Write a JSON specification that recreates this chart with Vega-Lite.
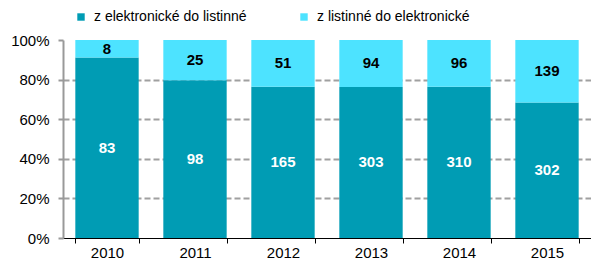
{
  "$schema": "https://vega.github.io/schema/vega-lite/v6.json",
  "width": 528,
  "height": 198,
  "autosize": "none",
  "padding": {"left": 63, "top": 40, "right": 0, "bottom": 25},
  "background": "white",
  "config": {
    "font": "Liberation Sans",
    "view": {"stroke": null},
    "axisY": {"labelOverlap": false}
  },
  "data": {
    "values": [
      {"year": "2010", "series": "z elektronické do listinné", "value": 83},
      {"year": "2010", "series": "z listinné do elektronické", "value": 8},
      {"year": "2011", "series": "z elektronické do listinné", "value": 98},
      {"year": "2011", "series": "z listinné do elektronické", "value": 25},
      {"year": "2012", "series": "z elektronické do listinné", "value": 165},
      {"year": "2012", "series": "z listinné do elektronické", "value": 51},
      {"year": "2013", "series": "z elektronické do listinné", "value": 303},
      {"year": "2013", "series": "z listinné do elektronické", "value": 94},
      {"year": "2014", "series": "z elektronické do listinné", "value": 310},
      {"year": "2014", "series": "z listinné do elektronické", "value": 96},
      {"year": "2015", "series": "z elektronické do listinné", "value": 302},
      {"year": "2015", "series": "z listinné do elektronické", "value": 139}
    ]
  },
  "encoding": {
    "x": {
      "field": "year",
      "type": "nominal",
      "title": null,
      "scale": {"paddingInner": 0.28, "paddingOuter": 0.14},
      "axis": {
        "labelAngle": 0,
        "labelFont": "Liberation Sans",
        "labelFontSize": 15,
        "labelColor": "#000",
        "labelPadding": 2,
        "domainColor": "#000",
        "domainWidth": 1,
        "tickColor": "#000",
        "tickSize": 5,
        "tickBand": "extent",
        "grid": false
      }
    }
  },
  "layer": [
    {
      "mark": {"type": "bar"},
      "encoding": {
        "y": {
          "field": "value",
          "type": "quantitative",
          "stack": "normalize",
          "title": null,
          "axis": {
            "values": [0, 0.2, 0.4, 0.6, 0.8, 1],
            "format": ".0%",
            "labelOverlap": false,
            "labelFont": "Liberation Sans",
            "labelFontSize": 15,
            "labelColor": "#000",
            "labelPadding": 9,
            "domainColor": "#999",
            "domainWidth": 2,
            "tickColor": "#999",
            "tickWidth": 2,
            "tickSize": 5,
            "grid": true,
            "gridColor": {"condition": {"test": "datum.value == 0 || datum.value == 1", "value": "transparent"}, "value": "#A0A0A0"},
            "gridDash": [6, 3],
            "gridWidth": 2
          }
        },
        "order": {"field": "series", "sort": "ascending"},
        "color": {
          "field": "series",
          "type": "nominal",
          "scale": {"range": ["#009CB4", "#4DE3FF"]},
          "legend": {
            "title": null,
            "orient": "none",
            "direction": "horizontal",
            "legendX": 11,
            "legendY": -30,
            "symbolType": "square",
            "symbolSize": 55,
            "symbolStrokeWidth": 0,
            "labelOffset": 6,
            "labelFont": "Liberation Sans",
            "labelFontSize": 14,
            "labelColor": "#000",
            "columnPadding": 50,
            "labelLimit": 300
          }
        }
      }
    },
    {
      "transform": [
        {"stack": "value", "groupby": ["year"], "sort": [{"field": "series", "order": "ascending"}], "offset": "normalize", "as": ["y0", "y1"]},
        {"fold": ["y0", "y1"], "as": ["edge", "pos"]},
        {"aggregate": [{"op": "mean", "field": "pos", "as": "mid"}], "groupby": ["year", "series", "value"]}
      ],
      "mark": {"type": "text", "font": "Liberation Sans", "fontSize": 15, "fontWeight": "bold"},
      "encoding": {
        "y": {
          "field": "mid",
          "type": "quantitative",
          "title": null,
          "axis": {
            "values": [0, 0.2, 0.4, 0.6, 0.8, 1],
            "format": ".0%",
            "labelOverlap": false,
            "labelFont": "Liberation Sans",
            "labelFontSize": 15,
            "labelColor": "#000",
            "labelPadding": 9,
            "domainColor": "#999",
            "domainWidth": 2,
            "tickColor": "#999",
            "tickWidth": 2,
            "tickSize": 5,
            "grid": true,
            "gridColor": {"condition": {"test": "datum.value == 0 || datum.value == 1", "value": "transparent"}, "value": "#A0A0A0"},
            "gridDash": [6, 3],
            "gridWidth": 2
          }
        },
        "text": {"field": "value", "type": "quantitative"},
        "color": {
          "condition": {"test": "datum.series === 'z elektronické do listinné'", "value": "white"},
          "value": "black"
        }
      }
    }
  ]
}
